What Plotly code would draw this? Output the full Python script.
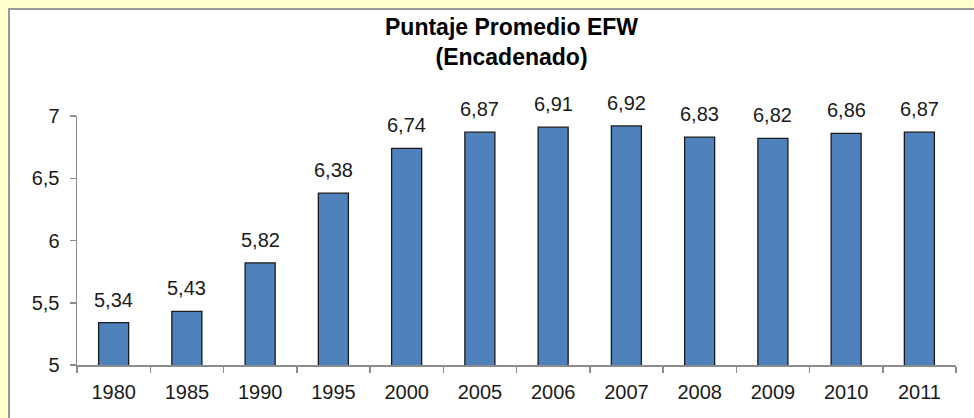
import plotly.graph_objects as go

years = ["1980", "1985", "1990", "1995", "2000", "2005", "2006", "2007", "2008", "2009", "2010", "2011"]
scores = [5.34, 5.43, 5.82, 6.38, 6.74, 6.87, 6.91, 6.92, 6.83, 6.82, 6.86, 6.87]
score_labels = ["5,34", "5,43", "5,82", "6,38", "6,74", "6,87", "6,91", "6,92", "6,83", "6,82", "6,86", "6,87"]
y_tickvals = [5, 5.5, 6, 6.5, 7]
y_ticktext = ["5", "5,5", "6", "6,5", "7"]
title_text = "Puntaje Promedio EFW<br>(Encadenado)"

FONT = "Liberation Sans, Arial, sans-serif"
AXIS_COLOR = "#8C8C8C"
BG = "#FFFFCC"

ML, MR, MT, MB = 77, 18, 116, 53
W, H = 974, 418
PH = H - MT - MB
PW = W - ML - MR

fig = go.Figure()
fig.add_trace(go.Bar(
    x=years, y=scores,
    marker=dict(color="#4F81BD", line=dict(color="#1A1A1A", width=1.3)),
    width=0.41,
    hoverinfo="skip",
))

for i, (v, lab) in enumerate(zip(scores, score_labels)):
    fig.add_annotation(x=i, y=v, text=lab, showarrow=False, yanchor="bottom",
                       yshift=10, font=dict(family=FONT, size=20, color="#1A1A1A"))

fig.add_annotation(x=(511 - ML) / PW, y=(H - MB - 12) / PH, xref="paper", yref="paper",
                   text="<b>" + title_text + "</b>",
                   showarrow=False, yanchor="top", xanchor="center",
                   font=dict(family=FONT, size=23, color="#000000"))

# white chart panel on yellow background
fig.add_shape(type="rect", xref="paper", yref="paper", layer="below",
              x0=(9 - ML) / PW, x1=1.2, y0=-0.5, y1=(H - MB - 9) / PH,
              fillcolor="white", line=dict(color="#9A9A9A", width=2))

fig.update_layout(
    width=W, height=H,
    margin=dict(l=ML, r=MR, t=MT, b=MB),
    paper_bgcolor=BG,
    plot_bgcolor="rgba(0,0,0,0)",
    showlegend=False,
    font=dict(family=FONT, size=20, color="#1A1A1A"),
    xaxis=dict(type="category", range=[-0.5, len(years) - 0.5], autorange=False,
               showline=True, linecolor=AXIS_COLOR, linewidth=1.5,
               ticks="outside", tickson="boundaries", ticklen=6, tickcolor=AXIS_COLOR,
               tickwidth=1.5, showgrid=False, tickfont=dict(size=20), tickangle=0,
               ticklabelstandoff=8, fixedrange=True),
    yaxis=dict(range=[5, 7], autorange=False, showline=True, linecolor=AXIS_COLOR, linewidth=1.5,
               ticks="outside", ticklen=6, tickcolor=AXIS_COLOR, tickwidth=1.5,
               tickvals=y_tickvals, ticktext=y_ticktext, showgrid=False, zeroline=False,
               tickfont=dict(size=20), ticklabelstandoff=6, fixedrange=True),
)

fig.write_html("out.html", config={"staticPlot": True},
               post_script="document.body.style.margin='0';document.body.style.background='" + BG + "';")
